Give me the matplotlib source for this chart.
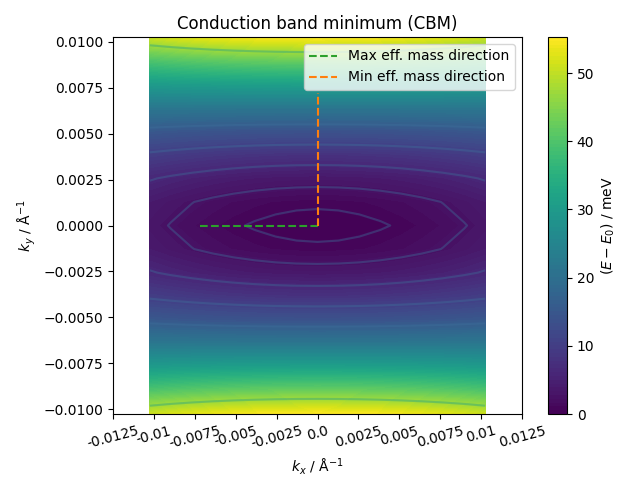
import numpy as np
import matplotlib
matplotlib.use("Agg")
import matplotlib.pyplot as plt

# k-grid (one quadrant, from centre outwards), Å^-1
k_quadrant = [0.0, 0.00128125, 0.0025625, 0.00384375, 0.005125,
              0.00640625, 0.0076875, 0.00896875, 0.01025]

# Energy (meV) on the quadrant grid: rows = ky index, cols = kx index
E_row0 = [0.00, 0.05, 0.20, 0.44, 0.78, 1.22, 1.76, 2.40, 3.13]
E_row1 = [0.86, 0.91, 1.05, 1.29, 1.62, 2.04, 2.56, 3.17, 3.88]
E_row2 = [3.46, 3.50, 3.62, 3.83, 4.12, 4.50, 4.95, 5.49, 6.12]
E_row3 = [7.78, 7.81, 7.91, 8.07, 8.30, 8.59, 8.95, 9.37, 9.85]
E_row4 = [13.83, 13.85, 13.90, 14.00, 14.14, 14.32, 14.53, 14.79, 15.08]
E_row5 = [21.60, 21.61, 21.62, 21.63, 21.65, 21.68, 21.72, 21.76, 21.80]
E_row6 = [31.11, 31.09, 31.04, 30.95, 30.83, 30.68, 30.49, 30.27, 30.02]
E_row7 = [42.34, 42.30, 42.18, 41.97, 41.69, 41.32, 40.87, 40.34, 39.73]
E_row8 = [55.30, 55.23, 55.03, 54.69, 54.21, 53.59, 52.84, 51.95, 50.93]

line_levels = [0.6, 2.5, 5.9, 10.4, 16.1, 47.0]
line_colors = ['#3d6f9a', '#3d6f9a', '#3d6f9a', '#3d6f9a', '#3d6f9a', '#1f9e89']

max_dir = ([-0.00718, 0.0], [0.0, 0.0])
min_dir = ([0.0, 0.0], [0.0, 0.00718])

xtick_vals = [-0.0125, -0.01, -0.0075, -0.005, -0.0025, 0.0,
              0.0025, 0.005, 0.0075, 0.01, 0.0125]
xtick_labels = ['-0.0125', '-0.01', '-0.0075', '-0.005', '-0.0025', '0.0',
                '0.0025', '0.005', '0.0075', '0.01', '0.0125']

# ---- build full symmetric grid ----
Q = np.array([E_row0, E_row1, E_row2, E_row3, E_row4,
              E_row5, E_row6, E_row7, E_row8])
kq = np.array(k_quadrant)
k_full = np.concatenate([-kq[:0:-1], kq])
idx = np.abs(np.arange(len(k_full)) - (len(kq) - 1))
Z = Q[np.ix_(idx, idx)]
KX, KY = np.meshgrid(k_full, k_full)

fig = plt.figure(figsize=(6.4, 4.8), dpi=100)
ax = fig.add_axes([113/640, 66/480, 409/640, 377/480])
cax = fig.add_axes([548/640, 66/480, 19/640, 377/480])

cf = ax.contourf(KX, KY, Z, levels=np.linspace(Z.min(), Z.max(), 100), cmap='viridis')
ax.contour(KX, KY, Z, levels=line_levels, colors=line_colors, alpha=0.4, linewidths=1.5)

ax.plot(*max_dir, '--', color='tab:green', label='Max eff. mass direction')
ax.plot(*min_dir, '--', color='tab:orange', label='Min eff. mass direction')
ax.legend(loc='upper right')

ax.set_xlim(-0.0125, 0.0125)
ax.set_ylim(k_full[0], k_full[-1])
ax.set_xticks(xtick_vals)
ax.set_xticklabels(xtick_labels, rotation=15)
ax.set_yticks([-0.01, -0.0075, -0.005, -0.0025, 0.0, 0.0025, 0.005, 0.0075, 0.01])
ax.yaxis.set_major_formatter(matplotlib.ticker.StrMethodFormatter('{x:.4f}'))
ax.set_xlabel(r'$k_x$ / Å$^{-1}$')
ax.set_ylabel(r'$k_y$ / Å$^{-1}$')
ax.set_title('Conduction band minimum (CBM)')

cb = fig.colorbar(cf, cax=cax, ticks=[0, 10, 20, 30, 40, 50])
cb.set_label(r'$(E - E_0)$ / meV')

fig.savefig('out.png', dpi=100)
